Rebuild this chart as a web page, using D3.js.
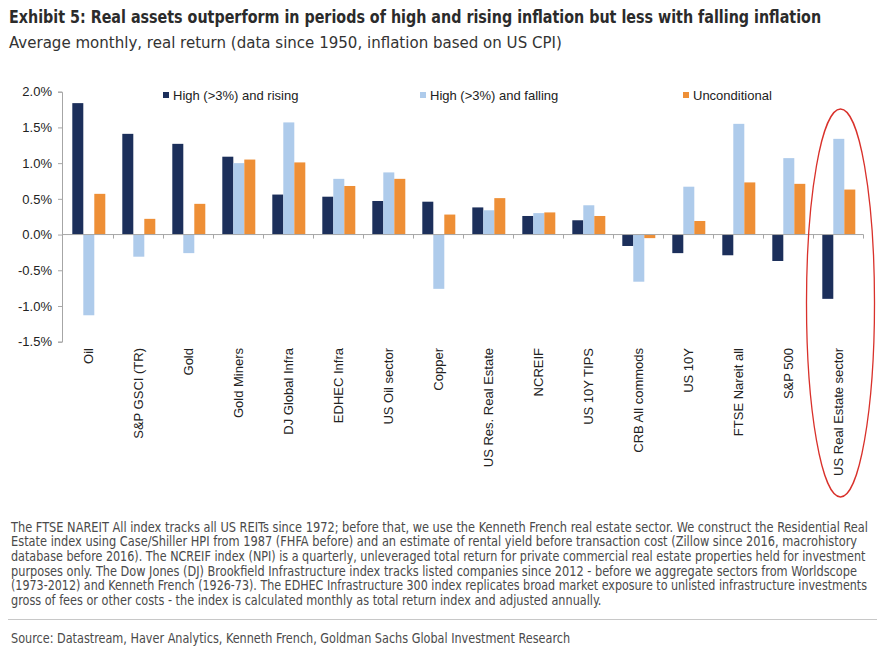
<!DOCTYPE html>
<html lang="en">
<head>
<meta charset="UTF-8">
<title>Exhibit 5</title>
<script src="https://d3js.org/d3.v7.min.js"></script>
<style>
  body { margin: 0; background: #fff; }
  svg text { font-family: "Liberation Sans", Arial, sans-serif; }
  svg text.narrow { font-family: "Liberation Sans Narrow", "DejaVu Sans Condensed", "Roboto", sans-serif; }
</style>
</head>
<body>
<div id="chart"></div>
<script>
// categories and series (average monthly real return, %)
const assets = ['Oil', 'S&P GSCI (TR)', 'Gold', 'Gold Miners', 'DJ Global Infra', 'EDHEC Infra',
    'US Oil sector', 'Copper', 'US Res. Real Estate', 'NCREIF', 'US 10Y TIPS', 'CRB All commods',
    'US 10Y', 'FTSE Nareit all', 'S&P 500', 'US Real Estate sector'];
const highRising  = [1.84, 1.41, 1.27, 1.09, 0.56, 0.53, 0.47, 0.46, 0.38, 0.26, 0.20, -0.16, -0.26, -0.29, -0.37, -0.90];
const highFalling = [-1.13, -0.31, -0.26, 1.00, 1.57, 0.78, 0.87, -0.76, 0.34, 0.30, 0.41, -0.66, 0.67, 1.55, 1.07, 1.34];
const uncond      = [0.57, 0.22, 0.43, 1.05, 1.01, 0.68, 0.78, 0.28, 0.51, 0.31, 0.26, -0.05, 0.19, 0.73, 0.71, 0.63];
const seriesNames = ['High (>3%) and rising', 'High (>3%) and falling', 'Unconditional'];
const yTicks = [2.0, 1.5, 1.0, 0.5, 0.0, -0.5, -1.0, -1.5];

const footnote = [
    'The FTSE NAREIT All index tracks all US REITs since 1972; before that, we use the Kenneth French real estate sector. We construct the Residential Real',
    'Estate index using Case/Shiller HPI from 1987 (FHFA before) and an estimate of rental yield before transaction cost (Zillow since 2016, macrohistory',
    'database before 2016). The NCREIF index (NPI) is a quarterly, unleveraged total return for private commercial real estate properties held for investment',
    'purposes only. The Dow Jones (DJ) Brookfield Infrastructure index tracks listed companies since 2012 - before we aggregate sectors from Worldscope',
    '(1973-2012) and Kenneth French (1926-73). The EDHEC Infrastructure 300 index replicates broad market exposure to unlisted infrastructure investments',
    'gross of fees or other costs - the index is calculated monthly as total return index and adjusted annually.'
];
const footEnds = [869, 858, 866, 858, 868, 602];

const colors = ['#1c2f5b', '#aecbeb', '#ee8f36'];

const width = 885, height = 648;
const svg = d3.select('#chart').append('svg')
    .attr('width', width).attr('height', height);

// squeeze a text horizontally so it spans exactly `w` pixels
function squeeze(sel, x, y, w) {
    sel.attr('transform', function() {
        const nat = this.getComputedTextLength();
        return `translate(${x},${y}) scale(${w / nat},1)`;
    });
}

// title + subtitle
svg.append('text').attr('class', 'narrow')
    .attr('font-size', 18).attr('font-weight', 'bold').attr('fill', '#2b2b2b')
    .text('Exhibit 5: Real assets outperform in periods of high and rising inflation but less with falling inflation')
    .call(squeeze, 9, 23, 813);
svg.append('text').attr('class', 'narrow')
    .attr('font-size', 16).attr('fill', '#333')
    .text('Average monthly, real return (data since 1950, inflation based on US CPI)')
    .call(squeeze, 9, 48, 553);

// scales
const x0 = d3.scaleBand().domain(assets).range([63.5, 863.5]);
const x1 = d3.scaleBand().domain(seriesNames).range([8.8, 8.8 + 33]);
const y = d3.scaleLinear().domain([-1.5, 2.0]).range([341.7, 91.7]);

const rows = assets.map((a, i) => ({
    asset: a,
    vals: [highRising[i], highFalling[i], uncond[i]].map((v, j) => ({ key: seriesNames[j], v: v, c: colors[j] }))
}));

// bars
svg.append('g').selectAll('g')
    .data(rows)
    .join('g')
    .attr('transform', d => `translate(${x0(d.asset)},0)`)
    .selectAll('rect')
    .data(d => d.vals)
    .join('rect')
    .attr('x', d => x1(d.key))
    .attr('width', x1.bandwidth())
    .attr('y', d => y(Math.max(0, d.v)))
    .attr('height', d => Math.abs(y(d.v) - y(0)))
    .attr('fill', d => d.c);

// y axis
const yAxis = svg.append('g')
    .attr('transform', 'translate(62,0)')
    .call(d3.axisLeft(y).tickValues(yTicks).tickSize(4).tickPadding(6).tickFormat(d => d.toFixed(1) + '%'));
yAxis.selectAll('path, line').attr('stroke', '#a6a6a6');
yAxis.selectAll('text').attr('font-size', 13).attr('fill', '#222')
    .style('font-family', '"Liberation Sans", Arial, sans-serif');

// x axis line at zero, ticks at category boundaries
const xg = svg.append('g');
xg.append('line')
    .attr('x1', x0.range()[0] - 1.5).attr('x2', x0.range()[1])
    .attr('y1', y(0)).attr('y2', y(0))
    .attr('stroke', '#a6a6a6');
xg.selectAll('.xtick')
    .data(assets)
    .join('line')
    .attr('class', 'xtick')
    .attr('x1', d => x0(d) + x0.bandwidth())
    .attr('x2', d => x0(d) + x0.bandwidth())
    .attr('y1', y(0)).attr('y2', y(0) + 4)
    .attr('stroke', '#a6a6a6');

// category labels, rotated
svg.append('g').selectAll('text')
    .data(assets)
    .join('text')
    .attr('transform', d => `translate(${x0(d) + x0.bandwidth() / 2 + 4},348) rotate(-90)`)
    .attr('text-anchor', 'end')
    .attr('font-size', 13).attr('fill', '#222')
    .text(d => d);

// legend
const legX = [163, 420, 683];
const leg = svg.append('g').selectAll('g')
    .data(seriesNames)
    .join('g')
    .attr('transform', (d, i) => `translate(${legX[i]},95)`);
leg.append('rect').attr('x', 0).attr('y', -3).attr('width', 6).attr('height', 6)
    .attr('fill', (d, i) => colors[i]);
leg.append('text').attr('x', 10).attr('y', 4.5)
    .attr('font-size', 13).attr('fill', '#222')
    .text(d => d);

// red highlight ellipse round the last category
svg.append('ellipse')
    .attr('cx', x0(assets[15]) + x0.bandwidth() / 2 + 2)
    .attr('cy', 303).attr('rx', 34).attr('ry', 194)
    .attr('fill', 'none').attr('stroke', '#d9312b').attr('stroke-width', 1.3);

// footnote
svg.append('g').selectAll('text')
    .data(footnote)
    .join('text')
    .attr('class', 'narrow')
    .attr('font-size', 13.5).attr('fill', '#4a4a4a')
    .text(d => d)
    .each(function(d, i) {
        d3.select(this).call(squeeze, 11, 531.5 + i * 14.7, footEnds[i] - 11);
    });

svg.append('line')
    .attr('x1', 8).attr('x2', 877).attr('y1', 619.5).attr('y2', 619.5)
    .attr('stroke', '#c8c8c8').attr('stroke-width', 1);

svg.append('text').attr('class', 'narrow')
    .attr('font-size', 14).attr('fill', '#4a4a4a')
    .text('Source: Datastream, Haver Analytics, Kenneth French, Goldman Sachs Global Investment Research')
    .call(squeeze, 11, 642.5, 560);
</script>
</body>
</html>
